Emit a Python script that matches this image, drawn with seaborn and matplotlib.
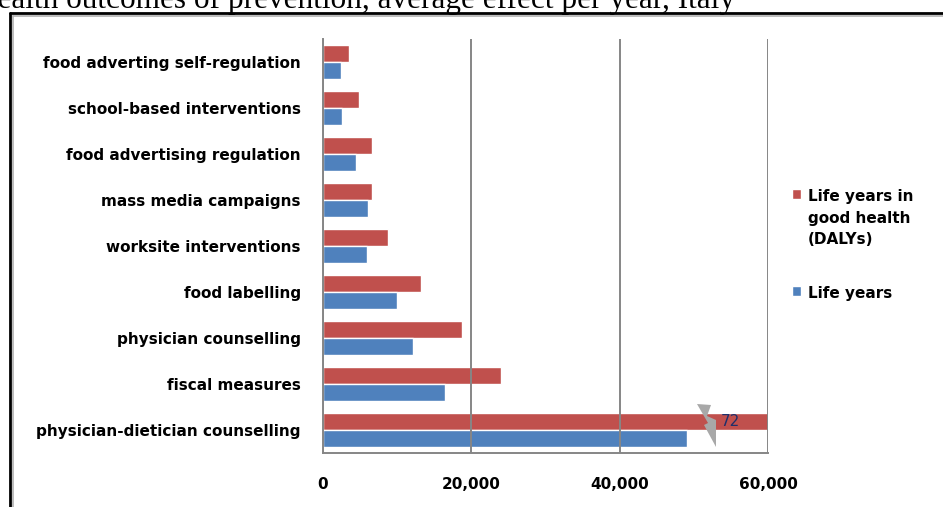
import numpy as np
import pandas as pd
import matplotlib
matplotlib.use('Agg')
import matplotlib.pyplot as plt
from matplotlib.lines import Line2D
import seaborn as sns

# data
interventions = ['food adverting self-regulation', 'school-based interventions',
                 'food advertising regulation', 'mass media campaigns',
                 'worksite interventions', 'food labelling', 'physician counselling',
                 'fiscal measures', 'physician-dietician counselling']
dalys = [3500, 4850, 6600, 6600, 8700, 13200, 18700, 24000, 72000]
life_years = [2400, 2600, 4500, 6100, 5900, 10000, 12100, 16400, 49100]
series = ['Life years in good health (DALYs)', 'Life years']
legend_labels = ['Life years in\ngood health\n(DALYs)', 'Life years']
xticks = [0, 20000, 40000, 60000]
title = 'Health outcomes of prevention, average effect per year, Italy'
broken_label = '72'

df = pd.DataFrame({
    'intervention': interventions * 2,
    'series': [series[0]] * len(interventions) + [series[1]] * len(interventions),
    'value': dalys + life_years,
})

W, H = 943, 507
sns.set_style('white')
plt.rcParams['font.family'] = ['DejaVu Sans']
plt.rcParams['text.color'] = 'black'
plt.rcParams['xtick.labelcolor'] = 'black'
plt.rcParams['ytick.labelcolor'] = 'black'
grey = '#868686'

fig = plt.figure(figsize=(W / 100, H / 100), dpi=100)
ax = fig.add_axes([323 / W, 1 - 453 / H, 445 / W, 414 / H])

sns.barplot(data=df, x='value', y='intervention', hue='series', hue_order=series,
            order=interventions, palette=['#C0504D', '#4F81BD'], width=0.74,
            saturation=1, orient='h', ax=ax)

ax.set_xlim(0, 60000)
ax.set_ylim(len(interventions) - 0.5, -0.5)
ax.set_xlabel('')
ax.set_ylabel('')

ax.set_xticks(xticks)
ax.set_xticklabels([f'{v:,}' for v in xticks], fontsize=11, fontweight='bold',
                   color='black')
ax.tick_params(axis='x', length=5, width=1.3, color=grey, pad=12, direction='out')
ax.set_yticks(range(len(interventions)))
ax.set_yticklabels(interventions, fontsize=11, fontweight='bold', color='black')
ax.set_yticks(np.arange(-0.5, len(interventions)), minor=True)
ax.tick_params(axis='y', which='major', length=0, pad=16)
ax.tick_params(axis='y', which='minor', length=6, width=1.3, color=grey, direction='out')

ax.xaxis.grid(True, color=grey, lw=1.4)
ax.set_axisbelow(False)
for s in ['top', 'right']:
    ax.spines[s].set_visible(False)
for s in ['left', 'bottom']:
    ax.spines[s].set_color(grey)
    ax.spines[s].set_linewidth(1.4)

# axis break marker on the clipped bar
bx = np.array([697, 711, 707, 716, 716, 704, 708, 697])
by = np.array([404, 405, 416, 420, 447, 425, 423, 404])
ax.fill((bx - 323) / 445 * 60000, (by - 39) / 46 - 0.5, color='#A8A8A8', zorder=5, lw=0)
ax.text(53600, 8 - 0.185, broken_label, fontsize=11, color='#1F2F6A', va='center',
        ha='left', zorder=6)

# legend
handles, _ = ax.get_legend_handles_labels()
ax.legend_.remove()
leg = fig.legend(handles, legend_labels, loc='upper left',
                 bbox_to_anchor=(792 / W, 1 - 189 / H), frameon=False,
                 prop={'size': 11, 'weight': 'bold'}, handlelength=0.6,
                 handleheight=0.6, handletextpad=0.45, labelspacing=2.55,
                 borderpad=0, borderaxespad=0)
for t in leg.get_texts():
    t.set_linespacing(1.55)
    t.set_color('black')
for col in leg._legend_handle_box.get_children():
    for item in col.get_children():
        item.align = 'top'

# outer frame and title
fig.add_artist(Line2D([10 / W, 1], [1 - 13 / H, 1 - 13 / H], color='black', lw=2,
                      transform=fig.transFigure))
fig.add_artist(Line2D([10 / W, 10 / W], [0, 1 - 13 / H], color='black', lw=2,
                      transform=fig.transFigure))
fig.add_artist(Line2D([13 / W, 1], [1 - 16 / H, 1 - 16 / H], color='#B0B0B0', lw=1.2,
                      transform=fig.transFigure))
fig.add_artist(Line2D([13 / W, 13 / W], [0, 1 - 16 / H], color='#B0B0B0', lw=1.2,
                      transform=fig.transFigure))
fig.text(-25 / W, 1 - 8 / H, title, family=['Liberation Serif', 'DejaVu Serif'],
         fontsize=22.5, va='baseline', ha='left', color='black')

fig.savefig('out.png', dpi=100)
